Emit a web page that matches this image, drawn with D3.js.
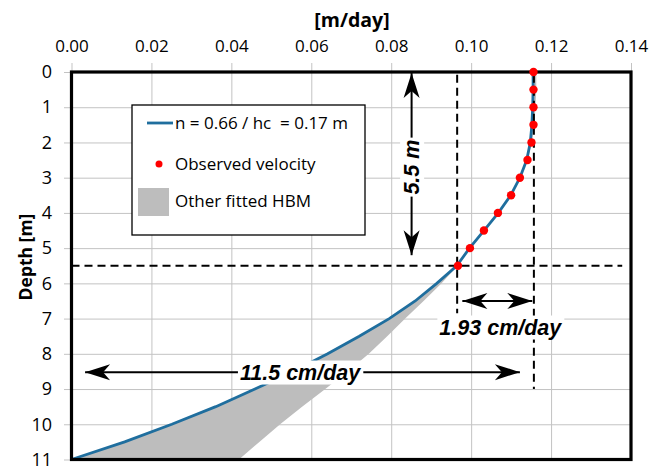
<!DOCTYPE html>
<html>
<head>
<meta charset="utf-8">
<script src="https://cdn.jsdelivr.net/npm/d3@7"></script>
<style>
  body { margin: 0; background: #fff; }
  svg { display: block; }
  .tick text { font-family: "Open Sans", sans-serif; fill: #000; }
  .note { font-family: "Liberation Sans", Arial, sans-serif; font-weight: bold; font-style: italic; }
</style>
</head>
<body>
<div id="chart"></div>
<script>
// depth profile (m) and the fitted velocity (m/day)
const depth = [0, 0.5, 1, 1.5, 2, 2.5, 3, 3.5, 4, 4.5, 5, 5.5, 6, 6.5, 7, 7.5, 8, 8.5, 9, 9.5, 10, 10.5, 11];
const fitVelocity = [0.1155, 0.1155, 0.1154, 0.1152, 0.1148, 0.1139, 0.1122, 0.1099, 0.1068, 0.1032, 0.0996, 0.0964,
  0.0914, 0.0860, 0.0795, 0.0720, 0.0641, 0.0554, 0.0459, 0.0361, 0.0251, 0.0133, 0.0000];
// envelope of the other fitted HBM profiles
const hbmLow = [0.1154, 0.1154, 0.1153, 0.1151, 0.1147, 0.1138, 0.1121, 0.1098, 0.1067, 0.1031, 0.0995, 0.0963,
  0.0913, 0.0860, 0.0795, 0.0720, 0.0641, 0.0554, 0.0459, 0.0361, 0.0251, 0.0133, 0.0000];
const hbmHigh = [0.1163, 0.1163, 0.1161, 0.1158, 0.1152, 0.1141, 0.1123, 0.1100, 0.1069, 0.1033, 0.0998, 0.0966,
  0.0926, 0.0881, 0.0835, 0.0790, 0.0744, 0.0691, 0.0635, 0.0577, 0.0522, 0.0470, 0.0419];

const obsDepth = [0, 0.5, 1, 1.5, 2, 2.5, 3, 3.5, 4, 4.5, 5, 5.5];
const obsVelocity = [0.1156, 0.1156, 0.1156, 0.1156, 0.1151, 0.1141, 0.1122, 0.1100, 0.1067, 0.1032, 0.0997, 0.0967];

const xTicks = [0, 0.02, 0.04, 0.06, 0.08, 0.10, 0.12, 0.14];
const yTicks = [0, 1, 2, 3, 4, 5, 6, 7, 8, 9, 10, 11];

// reference marks
const surfaceVelocity = 0.1157;
const depthVelocity = 0.0965;
const refDepth = 5.5;

const svg = d3.select('#chart').append('svg')
  .attr('width', 650)
  .attr('height', 470);

const x = d3.scaleLinear().domain([0, 0.14]).range([71.5, 631]);
const y = d3.scaleLinear().domain([0, 11]).range([72, 459.5]);

const gridColor = '#c3c3c3';

// arrowhead marker
svg.append('defs').append('marker')
  .attr('id', 'head')
  .attr('markerUnits', 'userSpaceOnUse')
  .attr('viewBox', '-26 -9 27 18')
  .attr('refX', 0)
  .attr('refY', 0)
  .attr('markerWidth', 27)
  .attr('markerHeight', 18)
  .attr('orient', 'auto-start-reverse')
  .append('path')
  .attr('d', 'M0,0 L-25,-8 L-18,0 L-25,8 Z')
  .attr('fill', '#000');

// top axis + vertical grid
const xAxis = svg.append('g')
  .attr('transform', 'translate(0,63)')
  .call(d3.axisTop(x).tickValues(xTicks).tickFormat(d3.format('.2f'))
    .tickSize(-(y.range()[1] - 63)).tickPadding(11));
xAxis.select('.domain').remove();
xAxis.selectAll('.tick line').attr('stroke', gridColor);
xAxis.selectAll('.tick text').style('font-size', '17px');

// left axis + horizontal grid
const yAxis = svg.append('g')
  .attr('transform', 'translate(64,0)')
  .call(d3.axisLeft(y).tickValues(yTicks).tickFormat(d3.format('d'))
    .tickSize(-(x.range()[1] - 64)).tickPadding(12));
yAxis.select('.domain').remove();
yAxis.selectAll('.tick line').attr('stroke', gridColor);
yAxis.selectAll('.tick text').style('font-size', '18px');

// axis titles
svg.append('text')
  .attr('x', 352)
  .attr('y', 27)
  .attr('text-anchor', 'middle')
  .style('font-family', '"Open Sans", sans-serif')
  .style('font-weight', 'bold')
  .style('font-size', '19.5px')
  .text('[m/day]');

svg.append('text')
  .attr('transform', 'translate(32,257) rotate(-90)')
  .attr('text-anchor', 'middle')
  .style('font-family', '"Open Sans", sans-serif')
  .style('font-weight', 'bold')
  .style('font-size', '17.5px')
  .text('Depth [m]');

// envelope of other fitted HBM
const band = depth.map((d, i) => ({ d: d, lo: hbmLow[i], hi: hbmHigh[i] }));
svg.append('path')
  .datum(band)
  .attr('fill', '#bdbdbd')
  .attr('d', d3.area().y(d => y(d.d)).x0(d => x(d.lo)).x1(d => x(d.hi)));

// fitted profile
svg.append('path')
  .datum(depth.map((d, i) => ({ d: d, v: fitVelocity[i] })))
  .attr('fill', 'none')
  .attr('stroke', '#1f6e9e')
  .attr('stroke-width', 2.8)
  .attr('d', d3.line().y(d => y(d.d)).x(d => x(d.v)));

// plot frame
svg.append('rect')
  .attr('x', x(0))
  .attr('y', y(0))
  .attr('width', x(0.14) - x(0))
  .attr('height', y(11) - y(0))
  .attr('fill', 'none')
  .attr('stroke', '#000')
  .attr('stroke-width', 3.2);

// dashed reference lines
const dashed = (x1, y1, x2, y2) => svg.append('line')
  .attr('x1', x1).attr('y1', y1).attr('x2', x2).attr('y2', y2)
  .attr('stroke', '#000')
  .attr('stroke-width', 2)
  .attr('stroke-dasharray', '8,5');
dashed(x(0), y(refDepth), x(0.1378), y(refDepth));
dashed(x(depthVelocity), y(0.08), x(depthVelocity), y(6.85));
dashed(x(surfaceVelocity), y(0.08), x(surfaceVelocity), y(9));

// observed velocity
svg.selectAll('circle.obs')
  .data(obsDepth)
  .enter()
  .append('circle')
  .attr('class', 'obs')
  .attr('cx', (d, i) => x(obsVelocity[i]))
  .attr('cy', d => y(d))
  .attr('r', 4.2)
  .attr('fill', '#ff0000');

// double arrows with labels
const arrow = (x1, y1, x2, y2) => svg.append('line')
  .attr('x1', x1).attr('y1', y1).attr('x2', x2).attr('y2', y2)
  .attr('stroke', '#000')
  .attr('stroke-width', 2)
  .attr('marker-start', 'url(#head)')
  .attr('marker-end', 'url(#head)');

const label = (cx, cy, txt, rotate) => {
  const g = svg.append('g')
    .attr('transform', 'translate(' + cx + ',' + cy + ')' + (rotate ? ' rotate(-90)' : ''));
  const t = g.append('text')
    .attr('class', 'note')
    .attr('text-anchor', 'middle')
    .attr('dy', '0.35em')
    .style('font-size', '21.5px')
    .text(txt);
  const bb = t.node().getBBox();
  g.insert('rect', 'text')
    .attr('x', bb.x - 2)
    .attr('y', bb.y)
    .attr('width', bb.width + 4)
    .attr('height', bb.height)
    .attr('fill', '#fff');
};

arrow(x(0.0851), y(0.03), x(0.0851), y(5.2));
label(x(0.0851), y(2.7), '5.5 m', true);

arrow(x(0.0978), y(6.5), x(0.1153), y(6.5));
label(x(0.1073), 327, '1.93 cm/day');

arrow(x(0.0034), y(8.52), x(0.1122), y(8.52));
label(x(0.0572), 372, '11.5 cm/day');

// legend
const legend = svg.append('g');
legend.append('rect')
  .attr('x', 132).attr('y', 105)
  .attr('width', 233).attr('height', 130)
  .attr('fill', '#fff')
  .attr('stroke', '#000')
  .attr('stroke-width', 1.3);
legend.append('line')
  .attr('x1', 147).attr('x2', 173).attr('y1', 123).attr('y2', 123)
  .attr('stroke', '#1f6e9e').attr('stroke-width', 2.8);
legend.append('circle')
  .attr('cx', 159).attr('cy', 164).attr('r', 3.5).attr('fill', '#ff0000');
legend.append('rect')
  .attr('x', 138).attr('y', 188).attr('width', 31).attr('height', 28)
  .attr('fill', '#bdbdbd');
const legendLabels = ['n = 0.66 / hc  = 0.17 m', 'Observed velocity', 'Other fitted HBM'];
legend.selectAll('text.lab')
  .data(legendLabels)
  .enter()
  .append('text')
  .attr('class', 'lab')
  .attr('x', 175)
  .attr('y', (d, i) => [123, 164, 201][i])
  .attr('dy', '0.35em')
  .style('white-space', 'pre')
  .style('font-family', '"Open Sans", sans-serif')
  .style('font-size', '17px')
  .text(d => d);
</script>
</body>
</html>
